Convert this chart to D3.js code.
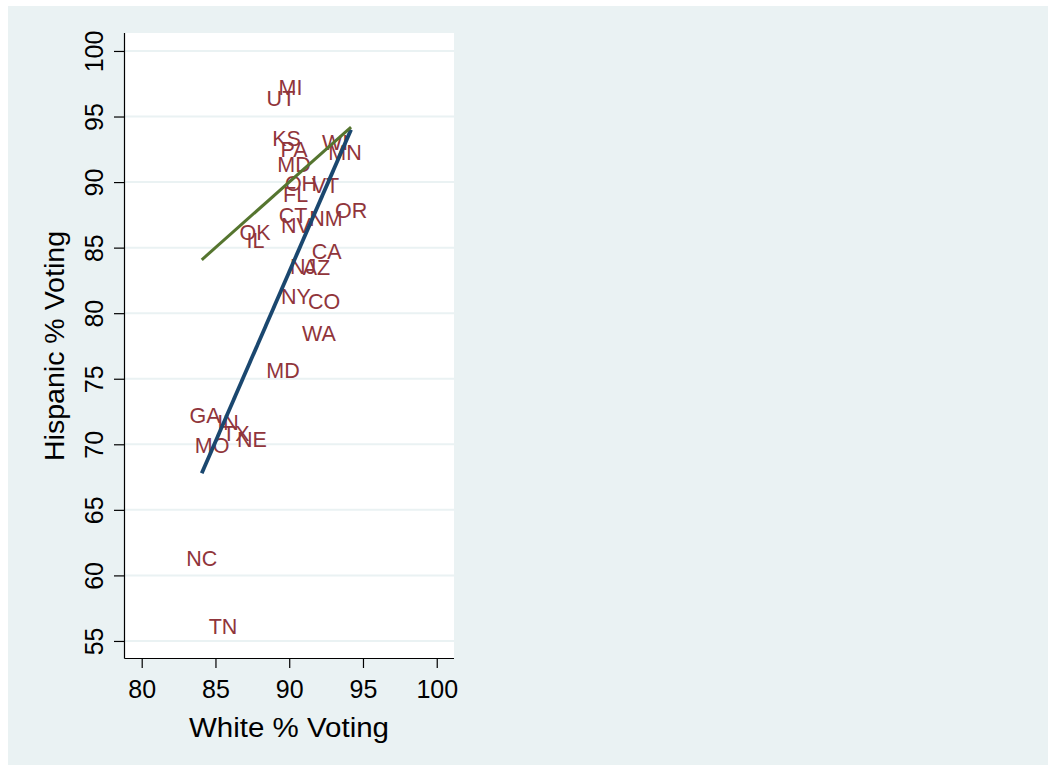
<!DOCTYPE html>
<html><head><meta charset="utf-8">
<script src="https://cdn.jsdelivr.net/npm/d3@7"></script>
<style>body{margin:0;background:#fff}svg{display:block}text{font-family:"Liberation Sans",Arial,sans-serif}</style>
</head><body>
<svg id="chart" width="1050" height="769"></svg>
<script>
const states = ["MI","UT","KS","PA","WI","MN","MD","OH","VT","FL","CT","NM","OR","NV","OK","IL","CA","NJ","AZ","NY","CO","WA","MD","GA","IN","TX","NE","MO","NC","TN"];
const whiteVoting = [90.09,89.44,89.82,90.33,93.11,93.78,90.33,90.80,92.46,90.43,90.26,92.49,94.19,90.46,87.68,87.72,92.54,90.94,91.85,90.46,92.36,92.02,89.58,84.29,85.85,86.39,87.48,84.77,84.07,85.51];
const hispVoting  = [97.22,96.42,93.33,92.53,93.06,92.30,91.38,89.94,89.78,89.10,87.49,87.27,87.84,86.73,86.16,85.59,84.71,83.60,83.53,81.32,80.93,78.49,75.67,72.24,71.71,70.87,70.37,69.95,61.29,56.14];
const fitX = [84.07, 94.19];
const fitY = [67.8, 94.0];
const eqX = [84.07, 94.19];
const eqY = [84.07, 94.19];
const xTicks = [80,85,90,95,100];
const yTicks = [55,60,65,70,75,80,85,90,95,100];

const svg = d3.select("#chart");
const x = d3.scaleLinear().domain([78.8,101.17]).range([124,454]);
const y = d3.scaleLinear().domain([53.7,101.37]).range([658,33]);

svg.append("rect").attr("x",8).attr("y",6).attr("width",1040).attr("height",759).attr("fill","#eaf2f3");
svg.append("rect").attr("x",124).attr("y",33).attr("width",330).attr("height",625).attr("fill","#fff");

// gridlines
svg.append("g").selectAll("line").data(yTicks).join("line")
  .attr("x1",124).attr("x2",454).attr("y1",d=>y(d)).attr("y2",d=>y(d))
  .attr("stroke","#eaf2f3").attr("stroke-width",2);

// axes
const xAxis = svg.append("g").attr("transform","translate(0,658)")
  .call(d3.axisBottom(x).tickValues(xTicks).tickSize(10).tickPadding(6).tickFormat(d3.format("d")));
xAxis.select(".domain").attr("d","M124.5,0.5H454");
const yAxis = svg.append("g").attr("transform","translate(124,0)")
  .call(d3.axisLeft(y).tickValues(yTicks).tickSize(10).tickFormat(d3.format("d")));
yAxis.select(".domain").attr("d","M0.5,33V658.5");
[xAxis,yAxis].forEach(a=>{a.selectAll("line,path").attr("stroke","#000").attr("stroke-width",1.2);});
xAxis.selectAll("text").attr("font-size",25).attr("fill","#000").attr("dy",null).attr("y",40);
yAxis.selectAll("text").attr("font-size",25).attr("fill","#000")
  .attr("x",null).attr("dy",null).attr("text-anchor","middle")
  .attr("transform","translate(-21,0) rotate(-90)").attr("y",0);

// axis titles
svg.append("text").attr("x",289).attr("y",737).attr("text-anchor","middle")
  .attr("font-size",27).attr("textLength",200).attr("lengthAdjust","spacingAndGlyphs").text("White % Voting");
svg.append("text").attr("transform","translate(64,346) rotate(-90)").attr("text-anchor","middle")
  .attr("font-size",27).attr("textLength",230).attr("lengthAdjust","spacingAndGlyphs").text("Hispanic % Voting");

// state labels
svg.append("g").selectAll("text").data(states).join("text")
  .attr("x",(d,i)=>x(whiteVoting[i])).attr("y",(d,i)=>y(hispVoting[i])+7.8)
  .attr("text-anchor","middle").attr("font-size",21.5).attr("fill","#90353b").text(d=>d);

// fitted line
const line = d3.line().x(d=>x(d[0])).y(d=>y(d[1]));
svg.append("path").datum(fitX.map((v,i)=>[v,fitY[i]])).attr("d",line)
  .attr("fill","none").attr("stroke","#1a476f").attr("stroke-width",3.8);
svg.append("path").datum(eqX.map((v,i)=>[v,eqY[i]])).attr("d",line)
  .attr("fill","none").attr("stroke","#55752f").attr("stroke-width",3);
</script>
</body></html>
